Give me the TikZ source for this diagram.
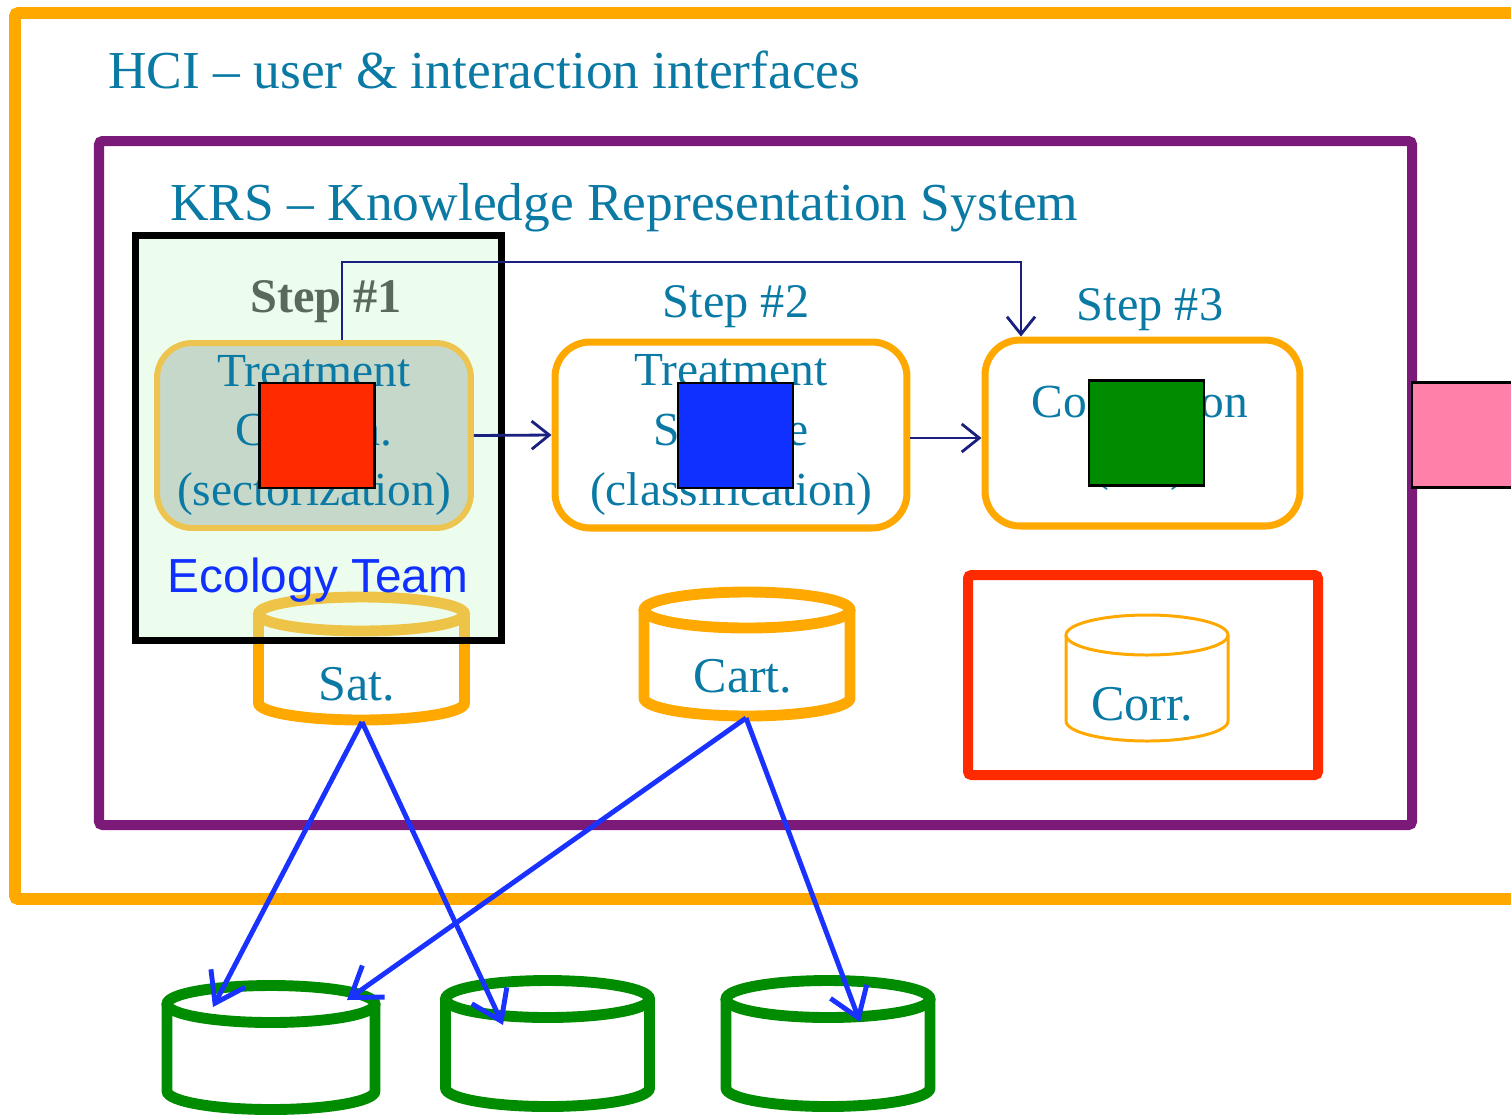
\documentclass[tikz,border=0pt]{standalone}
\usepackage{fontspec}
\setmainfont{Liberation Serif}
\newfontfamily\labelsans{Liberation Sans}
\usetikzlibrary{arrows.meta}

\definecolor{hciorange}{RGB}{255,168,0}
\definecolor{krspurple}{RGB}{123,26,120}
\definecolor{txtteal}{RGB}{10,122,165}
\definecolor{stepgrey}{RGB}{90,106,90}
\definecolor{linknavy}{RGB}{26,32,128}
\definecolor{flowblue}{RGB}{26,50,255}
\definecolor{dbgreen}{RGB}{0,140,0}
\definecolor{teamgreen}{RGB}{204,249,204}
\definecolor{paleorange}{RGB}{238,196,80}
\definecolor{greybox}{RGB}{198,216,201}
\definecolor{modred}{RGB}{255,42,0}
\definecolor{modblue}{RGB}{16,48,255}
\definecolor{modgreen}{RGB}{0,140,0}
\definecolor{modpink}{RGB}{255,128,168}

\tikzset{
  title/.style={anchor=base west, text=txtteal, inner sep=0pt,
    font=\fontsize{30.4}{36}\selectfont},
  steplabel/.style={anchor=base, text=txtteal, inner sep=0pt,
    font=\fontsize{27.5}{33}\selectfont},
  stepbox/.style={draw=hciorange, line width=4pt, rounded corners=0.7cm,
    align=center, text=txtteal, inner sep=0pt,
    font=\fontsize{27}{34}\selectfont},
  module/.style={draw=black, line width=1.4pt, inner sep=0pt,
    minimum width=2.3cm, minimum height=2.1cm},
  dblabel/.style={anchor=base, text=txtteal, inner sep=0pt,
    font=\fontsize{28.5}{34}\selectfont},
  linkarrow/.style={draw=linknavy, line width=1.6pt,
    -{Straight Barb[length=10pt,width=16pt]}},
  flowarrow/.style={draw=flowblue, line width=2.8pt,
    -{Straight Barb[length=16pt,width=22pt]}},
  pics/dbcyl/.style n args={3}{% x radius, y radius, body height
    code={
      \draw[pic actions] (-#1,0) -- (-#1,#3)
        arc[start angle=180, end angle=0, x radius=#1, y radius=#2] -- (#1,0);
      \draw[pic actions] (0,0) ellipse[x radius=#1, y radius=#2];
    }},
}

\begin{document}
\begin{tikzpicture}[x=0.02cm, y=-0.02cm]
\useasboundingbox (0,0) rectangle (1511,1117);

% outer layers
\draw[hciorange, line width=6.8pt, rounded corners=2pt] (15,13) rectangle (1560,899);
\node[title] (hci) at (108,88) {HCI -- user \& interaction interfaces};
\draw[krspurple, line width=5.7pt, rounded corners=2pt] (99,141) rectangle (1412,825);
\node[title] (krs) at (170,220) {KRS -- Knowledge Representation System};

% satellite data store (partly under the team frame)
\pic[draw=hciorange, line width=6.2pt] at (361.5,614) {dbcyl={103}{17}{89}};
\node[dblabel] (sat) at (357,700) {Sat.};
\coordinate (satbot) at (362,722);

% ecology team frame, translucent over the store
\node[draw=black, line width=4pt, fill=teamgreen, fill opacity=0.35,
      draw opacity=1, minimum width=7.34cm, minimum height=8.12cm,
      inner sep=0pt] (team) at (318.5,438) {};

% step 1
\node[anchor=base, text=stepgrey, inner sep=0pt,
      font=\bfseries\fontsize{27.5}{33}\selectfont] (s1lab) at (326,312) {Step \#1};
\node[stepbox, draw=paleorange, line width=3.4pt, fill=greybox,
      minimum width=6.28cm, minimum height=3.7cm] (box1) at (314,435.5)
      {Treatment\\Criteria.\\(sectorization)};
\node[module, fill=modred] (m1) at (317,435.5) {};

% step 2
\node[steplabel] (s2lab) at (736,317) {Step \#2};
\node[stepbox, minimum width=7.04cm, minimum height=3.72cm] (box2) at (731,435)
      {Treatment\\Satellite\\(classification)};
\node[module, fill=modblue] (m2) at (735.5,435.5) {};

% step 3
\node[steplabel] (s3lab) at (1150,320) {Step \#3};
\node[stepbox, minimum width=6.3cm, minimum height=3.72cm] (box3) at (1142.5,433) {};
\node[align=center, text=txtteal, inner sep=0pt,
      font=\fontsize{27}{36}\selectfont] (s3txt) at (1140,437.5) {Correlation\\(cor)};
\node[module, fill=modgreen] (m3) at (1146.5,433) {};

% module leaving the system
\node[module, fill=modpink, minimum width=2.6cm, anchor=west] (m4) at (1411,435) {};

% links between the steps
\draw[linkarrow] (box1.east) -- (box2.west);
\draw[linkarrow] ([yshift=-0.06cm]box2.east) -- ([yshift=-0.06cm]box2.east -| box3.west);
\coordinate (topbend) at (1021,262);
\draw[linkarrow] ([xshift=0.56cm]box1.north) |- (topbend) -- (topbend |- box3.north);

\node[anchor=base, text=modblue, inner sep=0pt,
      font=\labelsans\fontsize{27.2}{33}\selectfont] (ecoteam) at (318,592) {Ecology Team};

% cartographic data store
\pic[draw=hciorange, line width=6.2pt] at (747,610) {dbcyl={103}{18}{88}};
\node[dblabel] (cart) at (743,692) {Cart.};
\coordinate (cartbot) at (746,718);

% correlation store in its frame
\draw[modred, line width=5.7pt, rounded corners=2pt] (968,575) rectangle (1318,775);
\pic[draw=hciorange, line width=1.7pt] at (1147,635) {dbcyl={81}{20}{86}};
\node[dblabel] (corr) at (1142,720) {Corr.};

% output stores
\pic[draw=dbgreen, line width=6.2pt] at (271,1004) {dbcyl={104}{18.5}{87}};
\pic[draw=dbgreen, line width=6.2pt] at (547.5,999) {dbcyl={102}{18.5}{89}};
\pic[draw=dbgreen, line width=6.2pt] at (828,999) {dbcyl={102}{18.5}{89}};
\coordinate (g1a) at (213,1007);
\coordinate (g1b) at (347,1000);
\coordinate (g2) at (503,1025);
\coordinate (g3) at (860,1022);

\draw[flowarrow] (satbot) -- (g1a);
\draw[flowarrow] (satbot) -- (g2);
\draw[flowarrow] (cartbot) -- (g1b);
\draw[flowarrow] (cartbot) -- (g3);
\end{tikzpicture}
\end{document}
